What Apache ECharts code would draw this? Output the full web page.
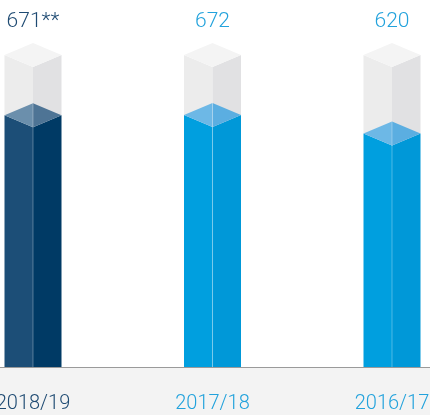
<!DOCTYPE html>
<html>
<head>
<meta charset="utf-8">
<style>
  html, body { margin: 0; padding: 0; background: #ffffff; }
  #chart { width: 430px; height: 415px; }
</style>
<script src="https://cdn.jsdelivr.net/npm/echarts@6/dist/echarts.min.js"></script>
</head>
<body>
<div id="chart"></div>
<script>
// Financial years, newest first
const categories = ['2018/19', '2017/18', '2016/17'];
const values = [671, 672, 620];
const valueLabels = ['671**', '672', '620'];
// Scale ceiling: the pale container prism reaches up to this value
const scaleMax = 840;

// Face colours per bar: [left face, right face, top-left, top-right, label]
const palettes = [
  { left: '#1c4e77', right: '#003a65', topL: '#6b8fac', topR: '#4e7495', text: '#1e4a72' },
  { left: '#009fdf', right: '#0098d8', topL: '#6db8e6', topR: '#5baee1', text: '#22a2dc' },
  { left: '#009fdf', right: '#0098d8', topL: '#6db8e6', topR: '#5baee1', text: '#22a2dc' }
];

const HW = 28.5; // half width of a prism
const HH = 12;   // half height of the rhombus top

const chart = echarts.init(document.getElementById('chart'), null, { renderer: 'canvas' });

function poly(points, fill) {
  return { type: 'polygon', shape: { points: points }, style: { fill: fill }, silent: true };
}

function renderItem(params, api) {
  const i = api.value(0);
  const v = api.value(1);
  const pal = palettes[i];
  const front = api.coord([i, v]);
  const base = api.coord([i, 0]);
  const top = api.coord([i, scaleMax]);
  const cx = front[0];
  const fy = front[1];
  const by = base[1];
  const ty = top[1];
  const children = [];
  // pale container above the filled part
  children.push(poly([[cx - HW, ty - HH], [cx, ty], [cx, fy], [cx - HW, fy - HH]], '#ececec'));
  children.push(poly([[cx, ty], [cx + HW, ty - HH], [cx + HW, fy - HH], [cx, fy]], '#e1e1e3'));
  children.push(poly([[cx, ty - 2 * HH], [cx + HW, ty - HH], [cx, ty], [cx - HW, ty - HH]], '#f4f4f4'));
  // filled prism
  children.push(poly([[cx - HW, fy - HH], [cx, fy], [cx, by], [cx - HW, by]], pal.left));
  children.push(poly([[cx, fy], [cx + HW, fy - HH], [cx + HW, by], [cx, by]], pal.right));
  children.push(poly([[cx - HW, fy - HH], [cx, fy - 2 * HH], [cx, fy]], pal.topL));
  children.push(poly([[cx, fy - 2 * HH], [cx + HW, fy - HH], [cx, fy]], pal.topR));
  // thin highlight on the front edge
  children.push({
    type: 'line', silent: true,
    shape: { x1: cx, y1: fy - 2 * HH, x2: cx, y2: by },
    style: { stroke: 'rgba(255,255,255,0.3)', lineWidth: 1 }
  });
  // value label above the prism
  children.push({
    type: 'text', silent: true,
    style: {
      x: cx, y: 22, text: valueLabels[i],
      fill: pal.text, font: '300 21px Roboto, "Liberation Sans", sans-serif',
      align: 'center', verticalAlign: 'middle'
    }
  });
  return { type: 'group', children: children };
}

chart.setOption({
  animation: false,
  backgroundColor: '#ffffff',
  graphic: [
    { type: 'rect', shape: { x: 0, y: 367, width: 430, height: 48 }, style: { fill: '#f3f3f3' }, z: -1 },
    { type: 'line', shape: { x1: 0, y1: 367.5, x2: 430, y2: 367.5 }, style: { stroke: '#9a9a9a', lineWidth: 1 }, z: 5 }
  ],
  grid: { left: 33, right: 38, top: 67, bottom: 48, containLabel: false, outerBoundsMode: 'none' },
  xAxis: {
    type: 'category',
    data: categories,
    boundaryGap: false,
    axisLine: { show: false },
    axisTick: { show: false },
    axisLabel: {
      margin: 27,
      fontSize: 20,
      fontWeight: 300,
      fontFamily: 'Roboto, "Liberation Sans", sans-serif',
      color: function (val) { return palettes[categories.indexOf(val)].text; }
    }
  },
  yAxis: {
    type: 'value', min: 0, max: scaleMax, show: false, splitLine: { show: false }
  },
  series: [{
    type: 'custom',
    renderItem: renderItem,
    data: values.map(function (v, i) { return [i, v]; }),
    clip: false
  }]
});
</script>
</body>
</html>
